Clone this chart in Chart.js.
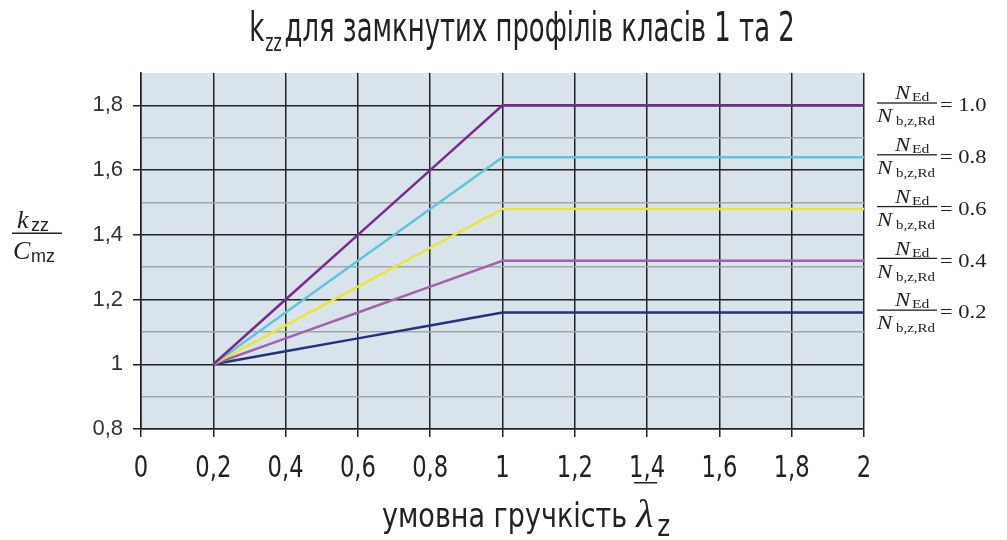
<!DOCTYPE html>
<html>
<head>
<meta charset="utf-8">
<script src="https://cdn.jsdelivr.net/npm/chart.js@4.4.1/dist/chart.umd.min.js"></script>
<style>
  html, body { margin: 0; padding: 0; background: #fff; }
  canvas { display: block; }
</style>
</head>
<body>
<canvas id="kzzChart" width="1007" height="540"></canvas>
<script>
// умовна гнучкість (x) і значення kzz/Cmz для кожного NEd/Nb,z,Rd
const lambdaZ = [0.2, 0.4, 0.6, 0.8, 1.0, 2.0];
const ratioLabels = ['1.0', '0.8', '0.6', '0.4', '0.2'];
const kzz10 = [1.00, 1.20, 1.40, 1.60, 1.80, 1.80];
const kzz08 = [1.00, 1.16, 1.32, 1.48, 1.64, 1.64];
const kzz06 = [1.00, 1.12, 1.24, 1.36, 1.48, 1.48];
const kzz04 = [1.00, 1.08, 1.16, 1.24, 1.32, 1.32];
const kzz02 = [1.00, 1.04, 1.08, 1.12, 1.16, 1.16];
const lineColors = ['#7a2a8e', '#5ec6d8', '#ece62e', '#a262a8', '#27307e'];

const condensed = '"DejaVu Sans Condensed", "Roboto", sans-serif';
const isMajor = v => Math.round(v * 10) % 2 === 0;
const fmt = v => (Math.round(v * 10) / 10).toString().replace('.', ',');

const series = [kzz10, kzz08, kzz06, kzz04, kzz02];
const datasets = series.map((vals, i) => ({
    label: ratioLabels[i],
    data: vals.map((y, j) => ({ x: lambdaZ[j], y: y })),
    borderColor: lineColors[i],
    borderWidth: 2.5,
    pointRadius: 0,
    tension: 0,
    fill: false
}));

// draw text squeezed/stretched horizontally; x is the left edge in page pixels
function textX(ctx, str, x, y, sx) {
    ctx.save();
    ctx.translate(x, y);
    ctx.scale(sx, 1);
    ctx.fillText(str, 0, 0);
    ctx.restore();
    return ctx.measureText(str).width * sx;
}

const plotBg = {
    id: 'plotBg',
    beforeDraw(chart) {
        const { ctx, chartArea: a } = chart;
        ctx.save();
        ctx.fillStyle = '#d9e3ec';
        ctx.fillRect(a.left, a.top, a.right - a.left, a.bottom - a.top);
        ctx.restore();
    }
};

const labels = {
    id: 'labels',
    afterDraw(chart) {
        const ctx = chart.ctx;
        const y = chart.scales.y;
        const x = chart.scales.x;
        ctx.save();
        ctx.fillStyle = '#222';
        ctx.textBaseline = 'alphabetic';

        // title
        const sT = 0.72;
        ctx.font = '40px ' + condensed;
        const t1 = 'k', t3 = 'для замкнутих профілів класів 1 та 2';
        const w1 = ctx.measureText(t1).width * sT;
        const w3 = ctx.measureText(t3).width * sT;
        ctx.font = '24px ' + condensed;
        const w2 = ctx.measureText('zz').width * sT + 4;
        let tx = 522 - (w1 + w2 + w3) / 2;
        ctx.font = '40px ' + condensed;
        textX(ctx, t1, tx, 41, sT);
        ctx.font = '24px ' + condensed;
        textX(ctx, 'zz', tx + w1 + 1, 51, sT);
        ctx.font = '40px ' + condensed;
        textX(ctx, t3, tx + w1 + w2, 41, sT);

        // x tick labels (from the scale's own ticks)
        ctx.font = '30px ' + condensed;
        x.ticks.forEach(t => {
            const s = fmt(t.value);
            const w = ctx.measureText(s).width * 0.84;
            textX(ctx, s, x.getPixelForValue(t.value) - w / 2, 477, 0.84);
        });
        // underline mark below "1" of 1,4
        const x14 = x.getPixelForValue(1.4);
        ctx.fillRect(x14 - 13, 482, 23, 1.5);

        // y-axis title k_zz / C_mz
        ctx.font = 'italic 26px "Liberation Serif", serif';
        ctx.fillText('k', 17, 228);
        ctx.font = '18px "Liberation Sans", sans-serif';
        ctx.fillText('zz', 31, 231);
        ctx.fillRect(12, 232.5, 50, 1.5);
        ctx.font = 'italic 26px "Liberation Serif", serif';
        ctx.fillText('C', 13, 259);
        ctx.font = '18px "Liberation Sans", sans-serif';
        ctx.fillText('mz', 31, 262);

        // x-axis title
        ctx.font = '33px ' + condensed;
        const xw = textX(ctx, 'умовна гручкість', 382, 527, 0.91);
        ctx.font = 'italic 40px "Liberation Serif", serif';
        textX(ctx, 'λ', 382 + xw + 9, 527, 1);
        ctx.font = '30px ' + condensed;
        textX(ctx, 'z', 382 + xw + 30, 536, 0.91);

        // right-side ratio labels at level of each line's plateau
        series.forEach((vals, i) => {
            const b = y.getPixelForValue(vals[vals.length - 1]);
            ctx.font = 'italic 19px "Liberation Serif", serif';
            textX(ctx, 'N', 895, b - 6, 1.2);
            ctx.font = '13px "Liberation Serif", serif';
            textX(ctx, 'Ed', 912, b - 4, 1.2);
            ctx.fillRect(877, b - 3, 60, 1.3);
            ctx.font = 'italic 19px "Liberation Serif", serif';
            textX(ctx, 'N', 877, b + 17, 1.2);
            ctx.font = '13px "Liberation Serif", serif';
            textX(ctx, 'b,z,Rd', 896, b + 20, 1.15);
            ctx.font = '18px "Liberation Serif", serif';
            textX(ctx, '= ' + ratioLabels[i], 940, b + 6, 1.25);
        });
        ctx.restore();
    }
};

new Chart(document.getElementById('kzzChart').getContext('2d'), {
    type: 'line',
    data: { datasets: datasets },
    options: {
        responsive: false,
        animation: false,
        layout: { padding: { left: 0, right: 143, top: 73, bottom: 0 } },
        plugins: { legend: { display: false }, tooltip: { enabled: false } },
        scales: {
            x: {
                type: 'linear',
                min: 0,
                max: 2,
                afterFit: s => { s.height = 111; },
                ticks: {
                    stepSize: 0.2,
                    display: false
                },
                grid: { color: '#222', lineWidth: 1.5, tickLength: 8, tickColor: '#222' },
                border: { color: '#222', width: 1.5 }
            },
            y: {
                min: 0.8,
                max: 1.9,
                afterFit: s => { s.width = 141; },
                ticks: {
                    stepSize: 0.1,
                    color: '#333',
                    padding: 10,
                    font: { family: '"Liberation Sans", Arial, sans-serif', size: 22 },
                    callback: v => isMajor(v) ? fmt(v) : ''
                },
                grid: {
                    color: c => Math.round(c.tick.value * 10) === 19 ? 'rgba(0,0,0,0)' : (isMajor(c.tick.value) ? '#222' : '#a3a6a9'),
                    lineWidth: 1.5,
                    tickLength: 8,
                    tickColor: c => isMajor(c.tick.value) && Math.round(c.tick.value * 10) !== 19 ? '#222' : 'rgba(0,0,0,0)'
                },
                border: { color: '#222', width: 1.5 }
            }
        }
    },
    plugins: [plotBg, labels]
});
</script>
</body>
</html>
